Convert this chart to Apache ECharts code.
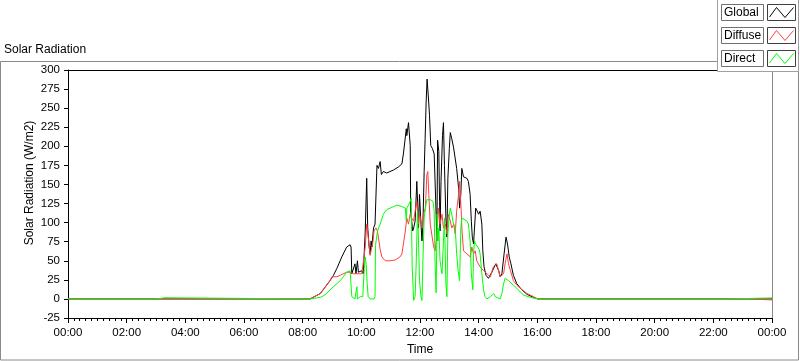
<!DOCTYPE html>
<html>
<head>
<meta charset="utf-8">
<script src="https://cdn.jsdelivr.net/npm/echarts@6/dist/echarts.min.js"></script>
<style>
  html, body { margin: 0; padding: 0; background: #fff; }
  #main { width: 800px; height: 361px; }
</style>
</head>
<body>
<div id="main"></div>
<script>
// 数据: [分钟, W/m2]
var seriesNames = ["Global", "Diffuse", "Direct"];
var seriesColors = ["#000000", "#ff4040", "#00ff00"];

var globalData = [
  [0,0],[495,0],[516,7],[536,24],[543,31],[550,40],[560,55],[570,68],[577,71],[579,68],[580.5,33],[584,33],
  [587,46],[589,33],[592,50],[594,35],[601,37],[604,33],[608,89],[611,158],[613,94],[616,68],[618,59],[620,76],
  [621.5,68],[625,93],[628,98],[632,175],[635,171],[638.5,180],[641,163],[645,167],[652,165],[666,169],[676,173],
  [683,177],[686,190],[692,223],[693,214],[696.5,231],[700,201],[701,115],[705,89],[707,93],[710,102],[713.5,154],
  [717,93],[719,137],[722,98],[724,76],[726,98],[728.5,167],[730.5,210],[732.5,257],[734.5,288],[737,266],
  [739.5,240],[742,201],[745.5,197],[749,190],[751,188],[753,111],[754.5,76],[756,208],[758.5,193],[760,128],
  [761,89],[763,154],[766,214],[768,231],[770,175],[773,106],[775,81],[777,158],[780,197],[782,218],[785,210],
  [788.5,199],[792,201],[795,171],[799,145],[801,119],[803.5,137],[805.5,171],[809,160],[812,162],[816,158],
  [819,154],[822.5,137],[825,102],[827,81],[829.5,72],[831.5,93],[834,119],[836,119],[840,111],[843,115],
  [846.5,98],[848.5,63],[851,42],[855,31],[860,27],[867,35],[875,46],[881,37],[884,29],[887.5,33],[892,59],
  [896,81],[899,72],[902.5,55],[906,46],[911,31],[918,20],[928,12],[939,6],[952,2],[961,0],[1440,0]
];

var diffuseData = [
  [0,0],[495,0],[516,7],[536,24],[540,29],[543,27],[550,29],[557,31],[570,35],[577,35],[584,33],[601,33],
  [604,35],[608,68],[611,98],[615,76],[618,57],[620,59],[624,76],[626,89],[630,93],[633,89],[636,76],[638.5,65],
  [642,55],[649,50],[659,50],[669,51],[679,55],[683,59],[686,72],[690,89],[693,106],[696.5,98],[700,111],
  [703,106],[707,102],[710,115],[713.5,128],[717,98],[719,111],[722,102],[725,93],[727,111],[731,119],[734,163],
  [736,167],[738,137],[741,98],[744,85],[748,68],[751,63],[754.5,85],[758,119],[761,98],[765,111],[768,93],
  [772,98],[775,85],[778,111],[782,102],[785,93],[789,98],[792,85],[795,115],[799,137],[801,154],[804,119],
  [806,89],[809,63],[816,59],[823,55],[826,68],[829.5,59],[833,63],[836,50],[843,42],[850,37],[857,33],
  [864,29],[870,42],[877,46],[884,29],[891,33],[894,46],[898,59],[901,46],[905,37],[911,24],[918,18],[925,14],
  [939,7],[952,3],[961,0],[1389,0],[1390,-1.3],[1440,-1.3]
];

var directData = [
  [0,0],[181,0],[182,1.5],[198,1.5],[199,0],[495,0],[516,2],[522,4],[529,7],[536,12],[543,16],[550,20],
  [557,24],[563,29],[570,35],[577,37],[579,37],[580.5,3],[584,3],[587,0],[591,16],[592,0],[598,3],[603,3],
  [606,40],[608,55],[610,45],[612,20],[614,3],[618,0],[626,0],[628,3],[629,70],[633,89],[638.5,98],[645,111],
  [652,117],[659,119],[673,123],[683,121],[690,119],[692,102],[693,119],[696.5,123],[700,128],[702,132],
  [704,42],[707,-2],[710,3],[712,42],[715,115],[717,76],[719,24],[722,3],[724,-2],[726,50],[728.5,106],
  [731,119],[734,130],[741,130],[746.5,128],[749,115],[751,42],[753,8],[755,111],[757,76],[758.5,93],[761,50],
  [765,33],[768,76],[770,106],[773,20],[775,3],[777,85],[780,111],[782,119],[785,111],[788.5,98],[792,93],
  [795,59],[798,37],[801,24],[803.5,93],[805.5,106],[809,104],[816,102],[819,98],[822.5,76],[825,33],[828,12],
  [829.5,59],[831.5,76],[834,72],[838,72],[841,65],[843,59],[846.5,33],[850,12],[853,3],[857,0],[864,3],
  [867,3],[871,7],[874,3],[884,0],[887.5,7],[891,20],[894,27],[898,29],[901,24],[904,22],[911,18],[918,14],
  [925,9],[932,5],[946,2],[961,0],[1337,0],[1338,1.3],[1339,0],[1354,0],[1355,1.3],[1440,1.3]
];

var allData = [globalData, diffuseData, directData];

var font = "Liberation Sans";

function hhmm(v) {
    var h = Math.floor(v / 60) % 24;
    return (h < 10 ? "0" : "") + h + ":00";
}

// 图例 (LabVIEW 风格)
var legendItems = [
    { type: 'rect', shape: { x: 717.5, y: -1, width: 81, height: 72.5 },
      style: { fill: '#fff', stroke: '#a0a0a0', lineWidth: 1 } }
];
seriesNames.forEach(function (n, i) {
    var top = 4.5 + i * 23;
    legendItems.push({ type: 'rect', shape: { x: 721.5, y: top, width: 42, height: 16 },
        style: { fill: '#fff', stroke: '#707070', lineWidth: 1 } });
    legendItems.push({ type: 'text', x: 724, y: top + 8,
        style: { text: n, font: '12px ' + font, fill: '#000', verticalAlign: 'middle' } });
    legendItems.push({ type: 'rect', shape: { x: 767.5, y: top, width: 28, height: 16 },
        style: { fill: '#fff', stroke: '#404040', lineWidth: 1 } });
    legendItems.push({ type: 'polyline',
        shape: { points: [[769.5, top + 12.5], [776.5, top + 3], [785, top + 13], [793.5, top + 3]] },
        style: { stroke: seriesColors[i], lineWidth: 1, fill: null } });
});

var myChart = echarts.init(document.getElementById('main'));
var option = {
    animation: false,
    backgroundColor: '#fff',
    textStyle: { fontFamily: font },
    grid: { left: 68, top: 70, right: 28, bottom: 39, containLabel: false },
    xAxis: {
        type: 'value', min: 0, max: 1440, interval: 120,
        name: 'Time', nameLocation: 'middle', nameGap: 26,
        nameTextStyle: { fontSize: 12, color: '#000', fontFamily: font },
        axisLine: { show: true, onZero: false, lineStyle: { color: '#000', width: 1 } },
        axisTick: { show: true, length: 5, lineStyle: { color: '#000' } },
        minorTick: { show: true, splitNumber: 10, length: 3, lineStyle: { color: '#000' } },
        axisLabel: { fontSize: 11.5, color: '#000', margin: 9, formatter: hhmm, fontFamily: font },
        splitLine: { show: false }
    },
    yAxis: {
        type: 'value', min: -25, max: 300, interval: 25,
        axisLine: { show: true, onZero: false, lineStyle: { color: '#000', width: 1 } },
        axisTick: { show: true, length: 4, lineStyle: { color: '#000' } },
        axisLabel: { fontSize: 11.5, color: '#000', margin: 8, fontFamily: font },
        splitLine: { show: false }
    },
    graphic: [
        // 外框
        { type: 'rect', z: -1, shape: { x: 0.5, y: 61.5, width: 798, height: 298.5 },
          style: { fill: 'none', stroke: '#8a8a8a', lineWidth: 1 } },
        { type: 'line', shape: { x1: 68, y1: 70.5, x2: 772, y2: 70.5 }, style: { stroke: '#000', lineWidth: 1 } },
        { type: 'line', shape: { x1: 772.5, y1: 70, x2: 772.5, y2: 322 }, style: { stroke: '#8a8a8a', lineWidth: 1 } },
        { type: 'text', x: 4, y: 50, style: { text: 'Solar Radiation', font: '12px ' + font, fill: '#000', verticalAlign: 'middle' } },
        { type: 'text', x: 30, y: 183, rotation: Math.PI / 2,
          style: { text: 'Solar Radiation (W/m2)', font: '12px ' + font, fill: '#000', align: 'center', verticalAlign: 'middle' } },
        { type: 'group', z: 100, children: legendItems }
    ],
    series: seriesNames.map(function (n, i) {
        return {
            name: n, type: 'line', data: allData[i],
            showSymbol: false, symbol: 'none',
            lineStyle: { color: seriesColors[i], width: 1 },
            itemStyle: { color: seriesColors[i] }
        };
    })
};
myChart.setOption(option);
</script>
</body>
</html>
